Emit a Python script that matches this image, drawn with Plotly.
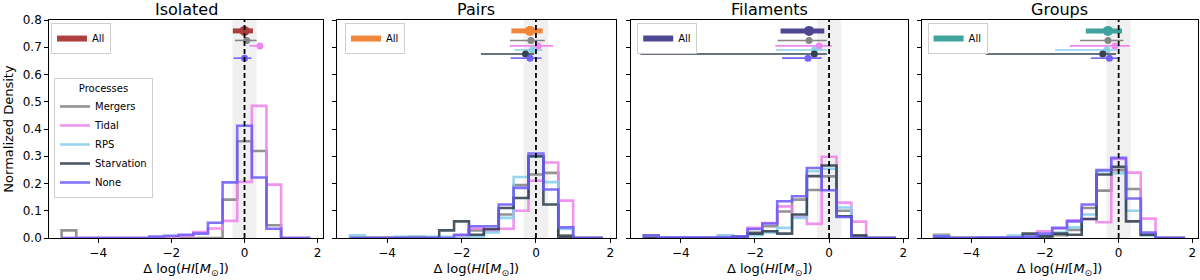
import plotly.graph_objects as go

# ---------------- data ----------------
panels = ["Isolated", "Pairs", "Filaments", "Groups"]
processes = ["Mergers", "Tidal", "RPS", "Starvation", "None"]
bin_edges = [-5.0, -4.6, -4.2, -3.8, -3.4, -3.0, -2.6, -2.2, -1.8, -1.4,
             -1.0, -0.6, -0.2, 0.2, 0.6, 1.0, 1.4, 1.8]
x_ticks = [-4, -2, 0, 2]
y_ticks = [0.0, 0.1, 0.2, 0.3, 0.4, 0.5, 0.6, 0.7, 0.8]

# histogram heights (17 bins)
iso_mergers = [0.028, 0, 0, 0, 0, 0, 0, 0, 0, 0, 0, 0.141, 0.355, 0.319, 0.047, 0, 0]
iso_tidal = [0, 0, 0, 0, 0, 0, 0, 0, 0.008, 0.022, 0.035, 0.063, 0.206, 0.485, 0.196, 0, 0]
iso_rps = None
iso_starv = None
iso_none = [0, 0, 0, 0, 0, 0, 0.005, 0.008, 0.012, 0.016, 0.056, 0.204, 0.412, 0.222, 0.034, 0, 0]

pair_mergers = [0, 0, 0, 0, 0.004, 0, 0, 0, 0.028, 0.03, 0.086, 0.194, 0.233, 0.239, 0.01, 0, 0]
pair_tidal = [0, 0, 0, 0, 0, 0, 0, 0.009, 0.035, 0.028, 0.034, 0.10, 0.21, 0.277, 0.137, 0, 0]
pair_rps = [0.01, 0, 0, 0.004, 0.004, 0.004, 0.004, 0, 0.004, 0.02, 0.074, 0.224, 0.298, 0.205, 0.033, 0, 0]
pair_starv = [0, 0, 0, 0, 0, 0, 0.028, 0.061, 0.012, 0.033, 0.11, 0.147, 0.30, 0.123, 0.005, 0, 0]
pair_none = [0, 0, 0, 0, 0, 0, 0, 0.012, 0.043, 0.043, 0.123, 0.184, 0.31, 0.178, 0.039, 0, 0]

fil_mergers = [0.01, 0, 0, 0, 0, 0, 0, 0.02, 0.043, 0.097, 0.141, 0.176, 0.226, 0.10, 0.009, 0, 0]
fil_tidal = [0, 0, 0, 0, 0, 0.009, 0.004, 0.037, 0.055, 0.116, 0.077, 0.052, 0.298, 0.13, 0.06, 0, 0]
fil_rps = [0, 0, 0, 0, 0, 0.009, 0.004, 0.01, 0.02, 0.037, 0.074, 0.245, 0.254, 0.112, 0, 0, 0]
fil_starv = [0, 0, 0, 0, 0, 0, 0.004, 0.016, 0.025, 0.016, 0.086, 0.227, 0.266, 0.08, 0.009, 0, 0]
fil_none = [0.009, 0.002, 0.002, 0.002, 0.002, 0.002, 0.005, 0.033, 0.053, 0.135, 0.153, 0.257, 0.175, 0.077, 0, 0, 0]

grp_mergers = [0.012, 0, 0, 0, 0, 0, 0, 0, 0.01, 0.03, 0.11, 0.174, 0.249, 0.18, 0.012, 0, 0]
grp_tidal = [0, 0, 0, 0, 0, 0, 0, 0.025, 0.035, 0.065, 0.07, 0.058, 0.29, 0.24, 0.071, 0, 0]
grp_rps = [0.008, 0, 0, 0, 0, 0.009, 0.005, 0.006, 0.02, 0.039, 0.086, 0.245, 0.237, 0.10, 0.009, 0, 0]
grp_starv = [0, 0, 0, 0, 0, 0, 0.016, 0.006, 0.016, 0.012, 0.07, 0.233, 0.261, 0.061, 0.012, 0, 0]
grp_none = [0.006, 0, 0, 0.002, 0.002, 0.002, 0.005, 0.016, 0.037, 0.061, 0.123, 0.249, 0.294, 0.145, 0.02, 0, 0]

# error-bar summaries: rows = All + processes
err_rows = ["All", "Mergers", "Tidal", "RPS", "Starvation", "None"]
err_y = [0.76, 0.725, 0.705, 0.69, 0.675, 0.66]

iso_mid = [0.00, 0.06, 0.42, None, None, 0.00]
iso_lo = [-0.32, -0.26, 0.13, None, None, -0.30]
iso_hi = [0.23, 0.33, 0.44, None, None, 0.19]

pair_mid = [-0.16, -0.135, 0.06, -0.10, -0.28, -0.16]
pair_lo = [-0.66, -0.70, -0.70, -0.57, -1.48, -0.68]
pair_hi = [0.18, 0.24, 0.46, 0.17, -0.05, 0.15]

fil_mid = [-0.54, -0.54, -0.27, -0.40, -0.40, -0.57]
fil_lo = [-1.31, -1.39, -1.45, -1.43, -5.09, -1.27]
fil_hi = [-0.13, -0.06, 0.07, -0.06, -0.06, -0.20]

grp_mid = [-0.29, -0.29, -0.10, -0.32, -0.43, -0.25]
grp_lo = [-0.89, -1.05, -1.32, -1.72, -3.60, -0.75]
grp_hi = [0.09, 0.13, 0.30, -0.05, -0.07, 0.03]

band_half_width = 0.33

# ---------------- style ----------------
FONT = "DejaVu Sans"
proc_colors = {"Mergers": "#808080", "Tidal": "#EE82EE", "RPS": "#87CEEB",
               "Starvation": "#2c3a4a", "None": "#6a5af9"}
all_colors = ["#a52a2a", "#f07a25", "#3b3386", "#2a9a94"]
x_domains = [(0.041, 0.269), (0.281, 0.513), (0.526, 0.757), (0.768, 0.998)]
all_legend_x = [0.0425, 0.2875, 0.531, 0.773]

hists = {
    "Isolated": [iso_mergers, iso_tidal, iso_rps, iso_starv, iso_none],
    "Pairs": [pair_mergers, pair_tidal, pair_rps, pair_starv, pair_none],
    "Filaments": [fil_mergers, fil_tidal, fil_rps, fil_starv, fil_none],
    "Groups": [grp_mergers, grp_tidal, grp_rps, grp_starv, grp_none],
}
errs = {
    "Isolated": (iso_mid, iso_lo, iso_hi),
    "Pairs": (pair_mid, pair_lo, pair_hi),
    "Filaments": (fil_mid, fil_lo, fil_hi),
    "Groups": (grp_mid, grp_lo, grp_hi),
}

fig = go.Figure()
shown = set()
legend_names = ["legend", "legend3", "legend4", "legend5"]

for i, p in enumerate(panels):
    xa = "x" if i == 0 else f"x{i + 1}"
    ya = "y" if i == 0 else f"y{i + 1}"
    # histograms (step outlines)
    for j, proc in enumerate(processes):
        h = hists[p][j]
        if h is None:
            continue
        xs = [bin_edges[0]] + bin_edges[:-1] + [bin_edges[-1], bin_edges[-1]]
        ys = [0] + list(h) + [h[-1], 0]
        show = proc not in shown
        shown.add(proc)
        fig.add_trace(go.Scatter(
            x=xs, y=ys, mode="lines", name=proc,
            line=dict(shape="hv", color=proc_colors[proc], width=2.6),
            opacity=0.85, xaxis=xa, yaxis=ya, legend="legend2",
            showlegend=show, legendrank=j + 1, hoverinfo="skip"))
    # error bars
    mid, lo, hi = errs[p]
    for k, row in enumerate(err_rows):
        if mid[k] is None:
            continue
        is_all = row == "All"
        color = all_colors[i] if is_all else proc_colors[row]
        fig.add_trace(go.Scatter(
            x=[mid[k]], y=[err_y[k]], mode="markers",
            marker=dict(color=color, size=10 if is_all else 7),
            error_x=dict(type="data", symmetric=False,
                         array=[hi[k] - mid[k]], arrayminus=[mid[k] - lo[k]],
                         color=color, thickness=5 if is_all else 1.6, width=0),
            opacity=0.9 if is_all else 0.95,
            xaxis=xa, yaxis=ya, showlegend=False, hoverinfo="skip"))
    # legend proxy for "All"
    fig.add_trace(go.Scatter(
        x=[None], y=[None], mode="lines", name="All",
        line=dict(color=all_colors[i], width=6), opacity=0.9,
        xaxis=xa, yaxis=ya, legend=legend_names[i], showlegend=True))
    # shaded band and dashed zero line
    fig.add_shape(type="rect", xref=xa, yref=f"{ya} domain",
                  x0=-band_half_width, x1=band_half_width, y0=0, y1=1,
                  fillcolor="#f0f0f0", line=dict(width=0), layer="below")
    fig.add_shape(type="line", xref=xa, yref=f"{ya} domain",
                  x0=0, x1=0, y0=0, y1=1,
                  line=dict(color="black", width=1.8, dash="5px,3px"), layer="above")
    # title
    d0, d1 = x_domains[i]
    fig.add_annotation(text=p, x=(d0 + d1) / 2, y=1, xref="paper", yref="paper",
                       xanchor="center", yanchor="bottom", yshift=-1, showarrow=False,
                       font=dict(size=16, family=FONT, color="black"))

axis_common = dict(showline=True, mirror=True, linecolor="black", linewidth=1,
                   ticks="outside", ticklen=4, tickcolor="black", showgrid=False,
                   zeroline=False, automargin=False,
                   tickfont=dict(size=12, family=FONT, color="black"))
layout = dict(
    width=1200, height=280, template="none",
    paper_bgcolor="white", plot_bgcolor="white",
    margin=dict(l=0, r=0, t=20, b=42),
    font=dict(family=FONT, color="black"),
)
for i in range(4):
    xk = "xaxis" if i == 0 else f"xaxis{i + 1}"
    yk = "yaxis" if i == 0 else f"yaxis{i + 1}"
    xa = "x" if i == 0 else f"x{i + 1}"
    ya = "y" if i == 0 else f"y{i + 1}"
    layout[xk] = dict(axis_common, domain=list(x_domains[i]), anchor=ya,
                      range=[-5.34, 2.14], tickvals=x_ticks,
                      title=dict(text="Δ log(<i>HI</i>[<i>M</i><sub>⊙</sub>])",
                                 font=dict(size=13, family=FONT), standoff=4))
    layout[yk] = dict(axis_common, domain=[0, 1], anchor=xa, range=[0, 0.8],
                      tickvals=y_ticks, tickformat=".1f",
                      showticklabels=(i == 0))
    if i == 0:
        layout[yk]["title"] = dict(text="Normalized Density",
                                   font=dict(size=13, family=FONT), standoff=6)

leg_common = dict(bgcolor="rgba(255,255,255,0.85)", bordercolor="#cfcfcf",
                  borderwidth=1, font=dict(size=10, family=FONT, color="black"),
                  xanchor="left", yanchor="top", xref="paper", yref="paper")
layout["legend"] = dict(leg_common, x=all_legend_x[0], y=0.986)
layout["legend3"] = dict(leg_common, x=all_legend_x[1], y=0.986)
layout["legend4"] = dict(leg_common, x=all_legend_x[2], y=0.986)
layout["legend5"] = dict(leg_common, x=all_legend_x[3], y=0.986)
layout["legend2"] = dict(leg_common, x=0.045, y=0.734, traceorder="normal",
                         title=dict(text="Processes", side="top center",
                                    font=dict(size=10, family=FONT)))
fig.update_layout(**layout)

# remove the browser's default 8px page margin so the 1200x280 figure fills the window
fig.write_html("out.html",
               config={"displayModeBar": False},
               post_script="document.body.style.margin='0';document.body.style.overflow='hidden';")
